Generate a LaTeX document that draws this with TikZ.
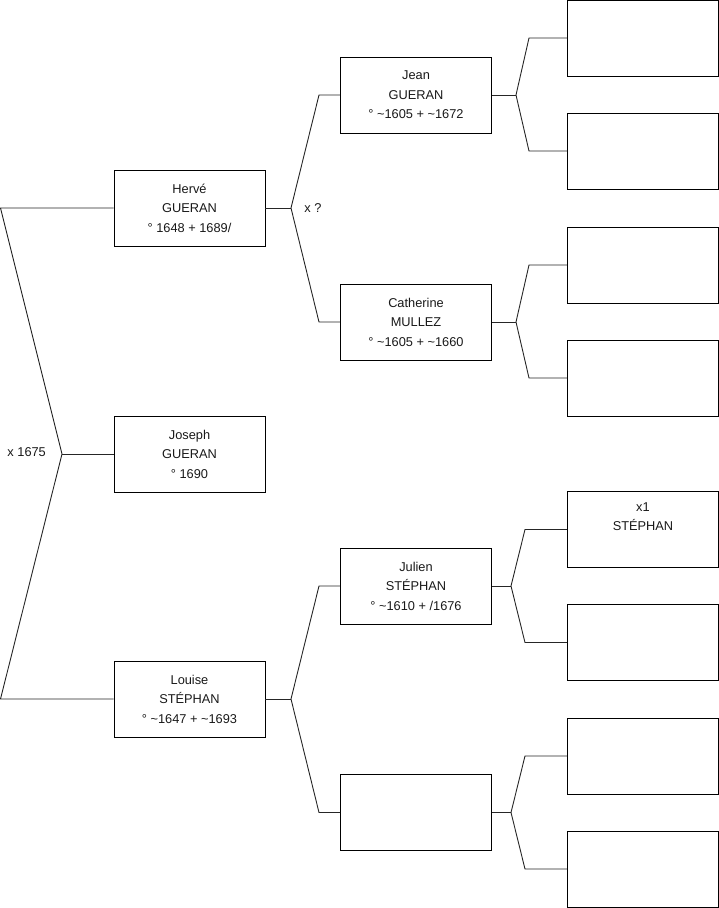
\documentclass[tikz,border=0pt]{standalone}
\usepackage{fontspec}
\setmainfont{Liberation Sans}
\begin{document}
\begin{tikzpicture}[x=1pt,y=-1pt,
  line width=0.9pt,
  every node/.style={font=\fontsize{12.8}{19.5}\selectfont, text=black!90},
  person/.style={draw, line width=0.9pt, minimum width=151pt, minimum height=76pt, inner sep=0pt, align=center},
  link/.style={draw=black!85, line width=0.9pt},
  lbl/.style={anchor=west, inner sep=0pt}]
\useasboundingbox (0,0) rectangle (719,908);
% generation 1
\node[person] (herve) at (189.5,208) {Hervé\\GUERAN\\° 1648 + 1689/};
\node[person] (joseph) at (189.5,454) {Joseph\\GUERAN\\° 1690};
\node[person] (louise) at (189.5,699) {Louise\\STÉPHAN\\° \textasciitilde1647 + \textasciitilde1693};
% generation 2
\node[person] (jean) at (416,95) {Jean\\GUERAN\\° \textasciitilde1605 + \textasciitilde1672};
\node[person] (catherine) at (416,322) {Catherine\\MULLEZ\\° \textasciitilde1605 + \textasciitilde1660};
\node[person] (julien) at (416,586) {Julien\\STÉPHAN\\° \textasciitilde1610 + /1676};
\node[person] (unknown) at (416,812.5) {};
% generation 3
\node[person] (r1) at (643,38) {};
\node[person] (r2) at (643,151) {};
\node[person] (r3) at (643,265) {};
\node[person] (r4) at (643,378) {};
\node[person] (r5) at (643,529.5) {x1\\STÉPHAN\\\strut};
\node[person] (r6) at (643,642.5) {};
\node[person] (r7) at (643,756) {};
\node[person] (r8) at (643,869) {};
% brackets: left
\coordinate (a1) at (0.5,208);
\coordinate (av) at (62,454);
\coordinate (a2) at (0.5,699);
\draw[link] (herve.west) -- (a1) -- (av) -- (a2) -- (louise.west);
\draw[link] (av) -- (joseph.west);
\node[lbl] (m1) at (7,452) {x 1675};
% Hervé parents
\coordinate (bv) at (291,208);
\coordinate (b1) at (319,95);
\coordinate (b2) at (319,322);
\draw[link] (herve.east) -- (bv);
\draw[link] (jean.west) -- (b1) -- (bv) -- (b2) -- (catherine.west);
\node[lbl] (m2) at (304,208) {x ?};
% Louise parents
\coordinate (cv) at (291,699);
\coordinate (c1) at (319,586);
\coordinate (c2) at (319,812.5);
\draw[link] (louise.east) -- (cv);
\draw[link] (julien.west) -- (c1) -- (cv) -- (c2) -- (unknown.west);
% Jean parents
\coordinate (dv) at (516,95);
\coordinate (d1) at (529,38);
\coordinate (d2) at (529,151);
\draw[link] (jean.east) -- (dv);
\draw[link] (r1.west) -- (d1) -- (dv) -- (d2) -- (r2.west);
% Catherine parents
\coordinate (ev) at (516,322);
\coordinate (e1) at (529,265);
\coordinate (e2) at (529,378);
\draw[link] (catherine.east) -- (ev);
\draw[link] (r3.west) -- (e1) -- (ev) -- (e2) -- (r4.west);
% Julien parents
\coordinate (fv) at (511,586);
\coordinate (f1) at (525,529.5);
\coordinate (f2) at (525,642.5);
\draw[link] (julien.east) -- (fv);
\draw[link] (r5.west) -- (f1) -- (fv) -- (f2) -- (r6.west);
% unknown parents
\coordinate (gv) at (511,812.5);
\coordinate (g1) at (525,756);
\coordinate (g2) at (525,869);
\draw[link] (unknown.east) -- (gv);
\draw[link] (r7.west) -- (g1) -- (gv) -- (g2) -- (r8.west);
\end{tikzpicture}
\end{document}
